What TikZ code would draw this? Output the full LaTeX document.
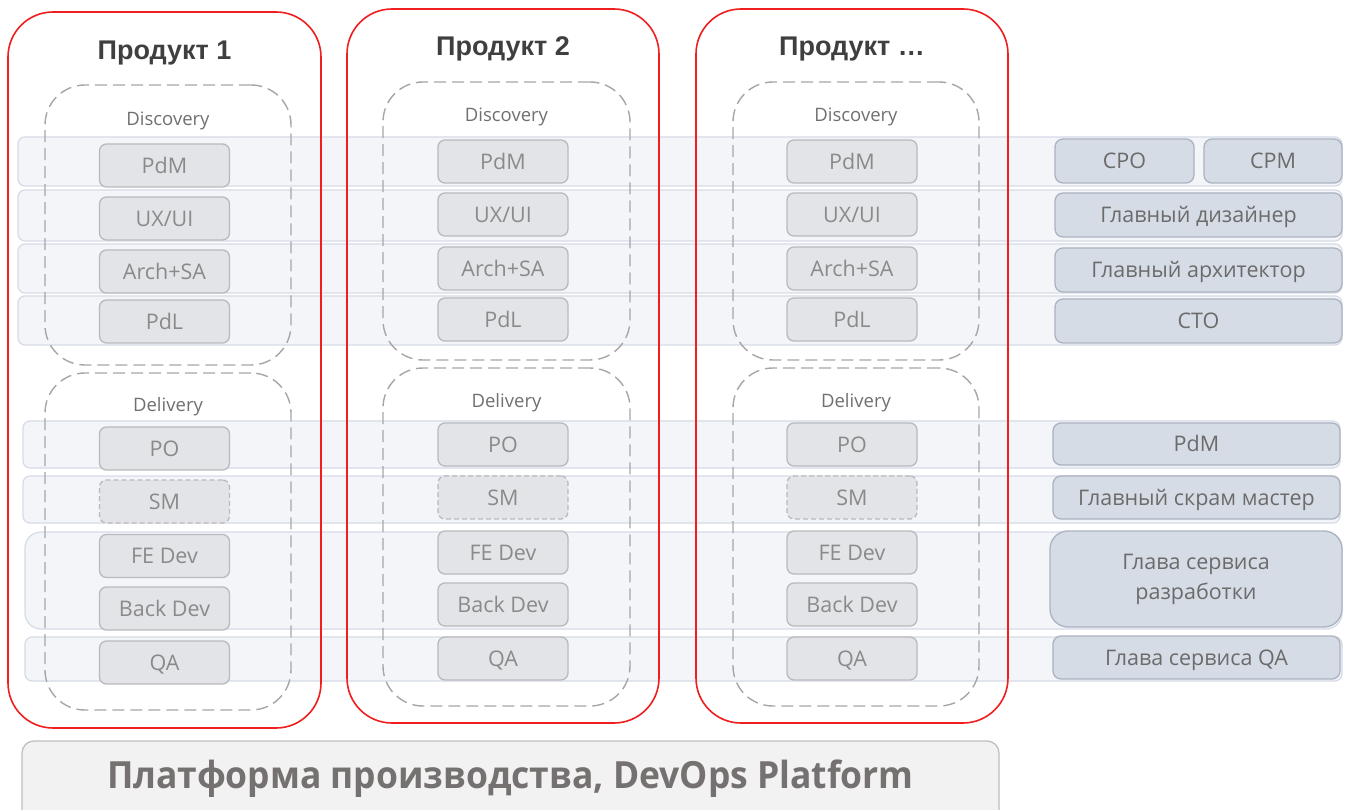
\documentclass[tikz,border=0pt]{standalone}
\usepackage{fontspec}
\setmainfont{Open Sans}
\newfontfamily\titlefont{Liberation Sans}
\usetikzlibrary{positioning}

\definecolor{prodred}{HTML}{F01E1E}
\definecolor{dashgray}{HTML}{A6A6A6}
\definecolor{bandfill}{HTML}{F2F4F9}
\definecolor{banddraw}{HTML}{D6DBE6}
\definecolor{rolefill}{HTML}{E3E4E8}
\definecolor{roledraw}{HTML}{B9BABD}
\definecolor{roletext}{HTML}{8A8A8A}
\definecolor{headfill}{HTML}{D6DCE5}
\definecolor{headdraw}{HTML}{ABB3C1}
\definecolor{headtext}{HTML}{6B6B6B}
\definecolor{phasetext}{HTML}{707070}
\definecolor{titletext}{HTML}{3F3F3F}
\definecolor{platfill}{HTML}{F2F2F2}
\definecolor{platdraw}{HTML}{BFBFBF}
\definecolor{plattext}{HTML}{757171}

\tikzset{
  band/.style={draw=banddraw, line width=1.2pt, fill=bandfill, fill opacity=0.9,
    rounded corners=7pt, inner sep=0pt},
  prodbox/.style={draw=prodred, line width=1.6pt, rounded corners=45pt, inner sep=0pt},
  phasebox/.style={draw=dashgray, line width=1.4pt, dash pattern=on 12pt off 6pt,
    rounded corners=40pt, inner sep=0pt},
  rolebox/.style={draw=roledraw, line width=1.3pt, fill=rolefill, rounded corners=7pt,
    minimum width=130pt, minimum height=43pt, inner sep=0pt, text=roletext,
    font=\fontsize{21.5}{25}\selectfont, text height=15.4pt, text depth=0pt},
  smbox/.style={rolebox, dash pattern=on 5pt off 3pt},
  headbox/.style={draw=headdraw, line width=1.3pt, fill=headfill, rounded corners=8pt,
    minimum height=43pt, inner sep=0pt, text=headtext,
    font=\fontsize{21.5}{30}\selectfont, align=center},
  headline/.style={headbox, text height=15.4pt, text depth=0pt},
  phaselabel/.style={text=phasetext, font=\fontsize{18.5}{22}\selectfont, inner sep=0pt},
  prodtitle/.style={text=titletext, font=\titlefont\bfseries\fontsize{27}{32}\selectfont, inner sep=0pt},
}

\begin{document}
\begin{tikzpicture}[x=1pt, y=-1pt]
\useasboundingbox (0,0) rectangle (1345,810);
\clip (0,0) rectangle (1345,810);
\fill[white] (0,0) rectangle (1345,810);

% horizontal role bands shared across products
\node[band, minimum width=1324pt, minimum height=49pt] (bandPdM)  at (680,161.5) {};
\node[band, minimum width=1324pt, minimum height=51pt] (bandUX)   at (680,215.5) {};
\node[band, minimum width=1324pt, minimum height=49pt] (bandArch) at (680,268.5) {};
\node[band, minimum width=1324pt, minimum height=49pt] (bandPdL)  at (680,320.5) {};
\node[band, minimum width=1317pt, minimum height=47pt] (bandPO)   at (681.5,444.5) {};
\node[band, minimum width=1317pt, minimum height=47pt] (bandSM)   at (681.5,499.5) {};
\node[band, minimum width=1317pt, minimum height=97pt, rounded corners=16pt] (bandDev) at (683.5,580.5) {};
\node[band, minimum width=1317pt, minimum height=44pt] (bandQA)   at (683.5,659) {};

% product frames
\node[prodbox, minimum width=313pt, minimum height=716pt] (prod1) at (164.5,370) {};
\node[prodbox, minimum width=312pt, minimum height=714pt] (prod2) at (503,366) {};
\node[prodbox, minimum width=312pt, minimum height=714pt] (prod3) at (852,366) {};

\node[prodtitle] (title1) at (164.5,53) {Продукт 1};
\node[prodtitle] (title2) at (503,49) {Продукт 2};
\node[prodtitle] (title3) at (852,49) {Продукт …};

% discovery / delivery groups
\node[phasebox, minimum width=246pt, minimum height=280pt] (disc1) at (168,225) {};
\node[phasebox, minimum width=246pt, minimum height=337pt] (deli1) at (168,541.5) {};
\node[phasebox, minimum width=247pt, minimum height=278pt] (disc2) at (506.5,221) {};
\node[phasebox, minimum width=247pt, minimum height=338pt] (deli2) at (506.5,537) {};
\node[phasebox, minimum width=246pt, minimum height=278pt] (disc3) at (856,221) {};
\node[phasebox, minimum width=246pt, minimum height=338pt] (deli3) at (856,537) {};

\node[phaselabel] (discl1) at (168,120.5) {Discovery};
\node[phaselabel] (delil1) at (168,407) {Delivery};
\node[phaselabel] (discl2) at (506.5,116.5) {Discovery};
\node[phaselabel] (delil2) at (506.5,403) {Delivery};
\node[phaselabel] (discl3) at (856,116.5) {Discovery};
\node[phaselabel] (delil3) at (856,403) {Delivery};

% product 1 roles
\node[rolebox] (p1pdm)  at (164.5,165.5) {PdM};
\node[rolebox] (p1ux)   at (164.5,218.5) {UX/UI};
\node[rolebox] (p1arch) at (164.5,271.5) {Arch+SA};
\node[rolebox] (p1pdl)  at (164.5,321.5) {PdL};
\node[rolebox] (p1po)   at (164.5,448.5) {PO};
\node[smbox]   (p1sm)   at (164.5,501.5) {SM};
\node[rolebox] (p1fe)   at (164.5,556)   {FE Dev};
\node[rolebox] (p1be)   at (164.5,608.5) {Back Dev};
\node[rolebox] (p1qa)   at (164.5,662.5) {QA};

% product 2 roles
\node[rolebox] (p2pdm)  at (503,161.5) {PdM};
\node[rolebox] (p2ux)   at (503,214.5) {UX/UI};
\node[rolebox] (p2arch) at (503,268.5) {Arch+SA};
\node[rolebox] (p2pdl)  at (503,319.5) {PdL};
\node[rolebox] (p2po)   at (503,444.5) {PO};
\node[smbox]   (p2sm)   at (503,497.5) {SM};
\node[rolebox] (p2fe)   at (503,552.5) {FE Dev};
\node[rolebox] (p2be)   at (503,604.5) {Back Dev};
\node[rolebox] (p2qa)   at (503,658.5) {QA};

% product 3 roles
\node[rolebox] (p3pdm)  at (852,161.5) {PdM};
\node[rolebox] (p3ux)   at (852,214.5) {UX/UI};
\node[rolebox] (p3arch) at (852,268.5) {Arch+SA};
\node[rolebox] (p3pdl)  at (852,319.5) {PdL};
\node[rolebox] (p3po)   at (852,444.5) {PO};
\node[smbox]   (p3sm)   at (852,497.5) {SM};
\node[rolebox] (p3fe)   at (852,552.5) {FE Dev};
\node[rolebox] (p3be)   at (852,604.5) {Back Dev};
\node[rolebox] (p3qa)   at (852,658.5) {QA};

% heads of the role bands
\node[headline, minimum width=139pt, minimum height=44pt] (cpo)    at (1124.5,161) {CPO};
\node[headline, minimum width=138pt, minimum height=44pt] (cpm)    at (1273,161)   {CPM};
\node[headline, minimum width=287pt, minimum height=44pt] (design) at (1198.5,215) {Главный дизайнер};
\node[headline, minimum width=287pt, minimum height=44pt] (archit) at (1198.5,270) {Главный архитектор};
\node[headline, minimum width=287pt, minimum height=44pt] (cto)    at (1198.5,321) {СТО};
\node[headline, minimum width=287pt, minimum height=42pt] (hpdm)   at (1196.5,444) {PdM};
\node[headline, minimum width=287pt, minimum height=43pt] (scrum)  at (1196.5,497.5) {Главный скрам мастер};
\node[headbox, minimum width=292pt, minimum height=96pt, rounded corners=18pt] (devhead) at (1196,579) {Глава сервиса\\разработки};
\node[headline, minimum width=287pt, minimum height=43pt] (qahead) at (1196.5,657.5) {Глава сервиса QA};

% shared platform
\node[draw=platdraw, line width=1.3pt, fill=platfill, rounded corners=12pt,
  minimum width=977pt, minimum height=90pt, inner sep=0pt] (platform) at (510.5,786) {};
\node[text=plattext, font=\bfseries\fontsize{36}{40}\selectfont, inner sep=0pt] (platlabel) at (510.5,779) {\scalebox{0.985}[1.04]{Платформа производства, DevOps Platform}};
\end{tikzpicture}
\end{document}
